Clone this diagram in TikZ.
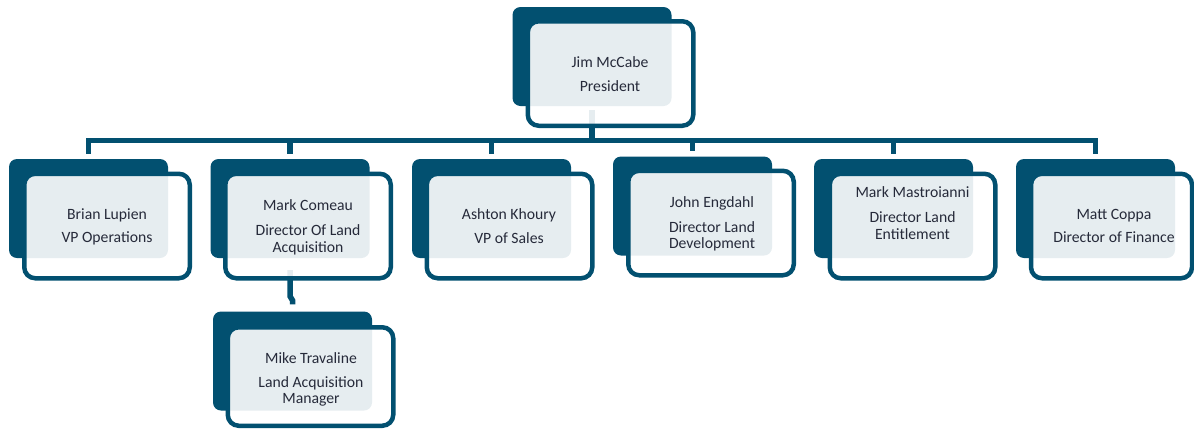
\documentclass[tikz,border=0pt]{standalone}
\usepackage{fontspec}
\setmainfont{Carlito}
\usetikzlibrary{backgrounds}
\definecolor{navy}{RGB}{2,80,112}
\definecolor{txt}{RGB}{38,42,58}
\tikzset{
  darkbox/.style={rectangle, draw=none, fill=navy, rounded corners=8pt, inner sep=0pt,
    minimum width=159pt, minimum height=99pt},
  cardbox/.style={rectangle, draw=navy, line width=4.5pt, fill=white, fill opacity=0.9,
    rounded corners=11pt, inner sep=0pt, minimum width=165.5pt, minimum height=104.5pt},
  lbl/.style={anchor=base, inner sep=0pt, text=txt, font=\fontsize{15.7}{17}\selectfont},
  conn/.style={draw=navy, line width=5.5pt}
}
\begin{document}
\begin{tikzpicture}[x=1pt, y=-1pt]
\useasboundingbox (0,0) rectangle (1194,429);
% dark back panels
\node[darkbox] (jim-dark) at (592,56.5) {};
\node[darkbox] (brian-dark) at (88.5,208.5) {};
\node[darkbox] (mark-dark) at (290,208.5) {};
\node[darkbox] (ashton-dark) at (491.5,208.5) {};
\node[darkbox] (john-dark) at (692.5,206) {};
\node[darkbox] (mast-dark) at (893.5,208.5) {};
\node[darkbox] (matt-dark) at (1095.5,208.5) {};
\node[darkbox] (mike-dark) at (292.5,361) {};
% connectors (behind the cards)
\coordinate (bus) at (0,140.5);
\draw[conn] ([yshift=-4pt]jim-dark.south) -- (jim-dark.south |- bus);
\draw[conn] ([yshift=5pt]brian-dark.north) -- (brian-dark.north |- bus)
  -- (matt-dark.north |- bus) -- ([yshift=5pt]matt-dark.north);
\draw[conn] (mark-dark.north |- bus) -- ([yshift=5pt]mark-dark.north);
\draw[conn] (ashton-dark.north |- bus) -- ([yshift=5pt]ashton-dark.north);
\draw[conn] (john-dark.north |- bus) -- ([yshift=5pt]john-dark.north);
\draw[conn] (mast-dark.north |- bus) -- ([yshift=5pt]mast-dark.north);
\draw[conn] ([yshift=-12pt]mark-dark.south) -- ([yshift=-38pt]mark-dark.south)
  -- ([yshift=11pt]mike-dark.north) -- ([yshift=7pt]mike-dark.north);
% outlined cards
\node[cardbox] (jim) at (610.5,73.5) {};
\node[cardbox] (brian) at (107,226) {};
\node[cardbox] (mark) at (308,226) {};
\node[cardbox] (ashton) at (509.5,226) {};
\node[cardbox] (john) at (711,223) {};
\node[cardbox] (mast) at (912.5,226) {};
\node[cardbox, minimum width=161pt] (matt) at (1111.5,226) {};
\node[cardbox, minimum height=98.5pt] (mike) at (310.5,376.5) {};
% texts
\node[lbl] (jim-1) at (610,67) {Jim McCabe};
\node[lbl] (jim-2) at (610,91) {President};
\node[lbl] (brian-1) at (107,219) {Brian Lupien};
\node[lbl] (brian-2) at (107,242) {VP Operations};
\node[lbl] (mark-1) at (308,210) {Mark Comeau};
\node[lbl] (mark-2) at (308,235) {Director Of Land};
\node[lbl] (mark-3) at (308,252) {Acquisition};
\node[lbl] (mike-1) at (311,363) {Mike Travaline};
\node[lbl] (mike-2) at (311,387) {Land Acquisition};
\node[lbl] (mike-3) at (311,403) {Manager};
\node[lbl] (ashton-1) at (509,219) {Ashton Khoury};
\node[lbl] (ashton-2) at (509,243) {VP of Sales};
\node[lbl] (john-1) at (712,207) {John Engdahl};
\node[lbl] (john-2) at (712,232) {Director Land};
\node[lbl] (john-3) at (712,248) {Development};
\node[lbl] (mast-1) at (912.5,197) {Mark Mastroianni};
\node[lbl] (mast-2) at (912.5,222) {Director Land};
\node[lbl] (mast-3) at (912.5,239) {Entitlement};
\node[lbl] (matt-1) at (1114,219) {Matt Coppa};
\node[lbl] (matt-2) at (1114,242) {Director of Finance};
\end{tikzpicture}
\end{document}
